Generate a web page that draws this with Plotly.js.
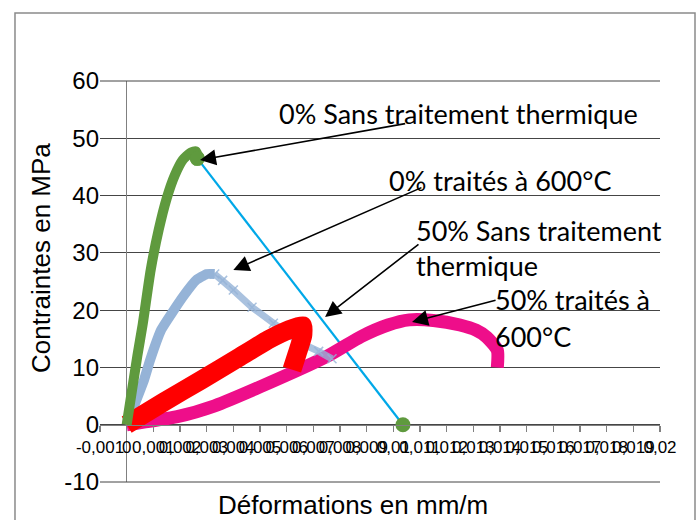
<!DOCTYPE html>
<html>
<head>
<meta charset="utf-8">
<script src="https://cdn.plot.ly/plotly-3.0.1.min.js"></script>
<style>html,body{margin:0;padding:0;background:#fff;}#chart{width:699px;height:520px;}</style>
</head>
<body>
<div id="chart"></div>
<script>
// ---- data ----
const greenX = [0, 0.0002, 0.0004, 0.0006, 0.0009, 0.0012, 0.0015, 0.0018, 0.0021, 0.0024, 0.0026, 0.00272];
const greenY = [0, 6, 12, 17.5, 27, 34, 39.5, 43.5, 46.2, 47.5, 47.7, 46.2];

const ruptureX = [0.00265, 0.01036];
const ruptureY = [46.5, 0];

const lbRiseX = [0, 0.00065, 0.00088, 0.0013, 0.00212, 0.00262, 0.0030, 0.0033];
const lbRiseY = [0, 7.8, 11.3, 16.6, 22.4, 25.3, 26.3, 26.3];
const lbFallX = [0.0033, 0.0036, 0.0040, 0.0047, 0.0055, 0.0065, 0.0072, 0.0077];
const lbFallY = [26.3, 25.2, 23.5, 20.5, 17.7, 14.3, 12.8, 11.5];

const redX = [0, 0.0014, 0.0028, 0.0042, 0.0053, 0.0061, 0.0066, 0.0066, 0.0064, 0.0062];
const redY = [0, 4.0, 7.8, 11.7, 14.8, 16.6, 17.3, 15.5, 12.5, 9.6];

const pinkX = [0, 0.0019, 0.0033, 0.005, 0.0075, 0.0088, 0.0098, 0.0106, 0.0115, 0.0125, 0.0131, 0.0135, 0.0139, 0.0139];
const pinkY = [0, 1.4, 3.3, 6.6, 11.9, 15.4, 17.4, 18.3, 18.2, 17.4, 16.5, 15.3, 13.0, 10.0];

const xTickVals = [-0.001, 0, 0.001, 0.002, 0.003, 0.004, 0.005, 0.006, 0.007, 0.008, 0.009, 0.01,
                   0.011, 0.012, 0.013, 0.014, 0.015, 0.016, 0.017, 0.018, 0.019, 0.02];
const xTickText = ['-0,001', '0', '0,001', '0,002', '0,003', '0,004', '0,005', '0,006', '0,007', '0,008', '0,009', '0,01',
                   '0,011', '0,012', '0,013', '0,014', '0,015', '0,016', '0,017', '0,018', '0,019', '0,02'];
const yTickVals = [-10, 0, 10, 20, 30, 40, 50, 60];
const yTickText = ['-10', '0', '10', '20', '30', '40', '50', '60'];
const yMin = -10, yMax = 60;

const labels = {
  s1: '0% Sans traitement thermique',
  s2: '0% traités à 600°C',
  s3a: '50% Sans traitement', s3b: 'thermique',
  s4a: '50% traités à', s4b: '600°C'
};
const xTitle = 'Déformations en mm/m';
const yTitle = 'Contraintes en MPa';

// ---- traces ----
const traces = [
  {x: ruptureX, y: ruptureY, mode: 'lines+markers', line: {color: '#00A8E8', width: 2.2},
   marker: {color: '#5F9A3E', size: 15}, showlegend: false},
  {x: pinkX, y: pinkY, mode: 'lines', line: {color: '#EE0E8A', width: 13, shape: 'spline', smoothing: 0.6}, showlegend: false},
  {x: lbFallX, y: lbFallY, mode: 'lines+markers', line: {color: 'rgba(149,179,215,0.8)', width: 7},
   marker: {symbol: 'x-thin-open', size: 9, line: {color: '#8FB2DE', width: 1.5}}, showlegend: false},
  {x: lbRiseX, y: lbRiseY, mode: 'lines', line: {color: '#95B3D7', width: 10, shape: 'spline', smoothing: 0.4}, showlegend: false},
  {x: redX, y: redY, mode: 'lines', line: {color: '#FF0000', width: 19, shape: 'spline', smoothing: 0.4}, showlegend: false},
  {x: greenX, y: greenY, mode: 'lines', line: {color: '#5F9A3E', width: 10, shape: 'spline', smoothing: 0.6}, showlegend: false},
  {x: [ruptureX[0]], y: [ruptureY[0]], mode: 'markers', marker: {color: '#5F9A3E', size: 15}, showlegend: false}
];

const annFont = {family: 'Lato, "Open Sans", sans-serif', size: 27, color: '#000'};
function txt(t, xp, yp) {
  return {text: t, x: xp, y: yp, xref: 'paper', yref: 'paper', xanchor: 'left', yanchor: 'middle',
          showarrow: false, font: annFont};
}
function arr(hx, hy, tx, ty) {
  return {text: '', x: hx, y: hy, ax: tx, ay: ty, xref: 'x', yref: 'y', axref: 'x', ayref: 'y',
          showarrow: true, arrowhead: 2, arrowsize: 2, arrowwidth: 1.6, arrowcolor: '#000', standoff: 0};
}
// frame lines at the bottom (-10) and top (60) of the value range, as paper edges of the plot area
function edgeLine(p) {
  return {type: 'line', xref: 'paper', yref: 'paper', x0: 0, x1: 1, y0: p, y1: p,
          line: {color: '#454545', width: 1}, layer: 'above'};
}

const layout = {
  width: 699, height: 520,
  margin: {l: 100, r: 39, t: 81, b: 38},
  paper_bgcolor: '#fff', plot_bgcolor: '#fff',
  showlegend: false,
  xaxis: {
    range: [-0.001, 0.02], tickmode: 'array', tickvals: xTickVals, ticktext: xTickText, tickangle: 0,
    tickfont: {family: 'Arial, "Liberation Sans", sans-serif', size: 17, color: '#000'},
    showgrid: false, zeroline: true, zerolinecolor: '#808080', zerolinewidth: 1.5,
    showline: true, linecolor: '#808080', linewidth: 1.5,
    ticks: 'outside', ticklen: 6, tickcolor: '#808080', tickwidth: 1.2,
    anchor: 'free', position: (0 - yMin) / (yMax - yMin)
  },
  yaxis: {
    range: [yMin, yMax], tickmode: 'array', tickvals: yTickVals, ticktext: yTickText,
    tickfont: {family: 'Arial, "Liberation Sans", sans-serif', size: 24, color: '#000'},
    showgrid: true, gridcolor: '#454545', gridwidth: 1, zeroline: false,
    showline: false, ticks: '', ticklabelstandoff: 0
  },
  shapes: [
    {type: 'rect', xref: 'paper', yref: 'paper', x0: -0.1518, x1: 1.0625, y0: -0.2, y1: 1.1696,
     line: {color: '#8a8a8a', width: 1.5}, fillcolor: 'rgba(0,0,0,0)', layer: 'below'},
    edgeLine(0), edgeLine(1)
  ],
  annotations: [
    txt(labels.s1, 0.316, 0.920),
    txt(labels.s2, 0.5125, 0.753),
    txt(labels.s3a, 0.5607, 0.628),
    txt(labels.s3b, 0.5607, 0.541),
    txt(labels.s4a, 0.7018, 0.4539),
    txt(labels.s4b, 0.7018, 0.3616),
    arr(0.00275, 46.2, 0.0105, 52.6),
    arr(0.0040, 27.0, 0.01111, 41.5),
    arr(0.00744, 18.8, 0.0110, 31.7),
    arr(0.0107, 17.93, 0.01389, 21.8),
    {text: xTitle, x: 0.451, y: -0.0564, xref: 'paper', yref: 'paper', xanchor: 'center', yanchor: 'middle',
     showarrow: false, font: {family: 'Arial, "Liberation Sans", sans-serif', size: 26, color: '#000'}},
    {text: yTitle, x: -0.1054, y: 0.5586, xref: 'paper', yref: 'paper', xanchor: 'center', yanchor: 'middle',
     textangle: -90, showarrow: false, font: {family: 'Arial, "Liberation Sans", sans-serif', size: 26, color: '#000'}}
  ]
};

Plotly.newPlot('chart', traces, layout, {staticPlot: true, displayModeBar: false});
</script>
</body>
</html>
